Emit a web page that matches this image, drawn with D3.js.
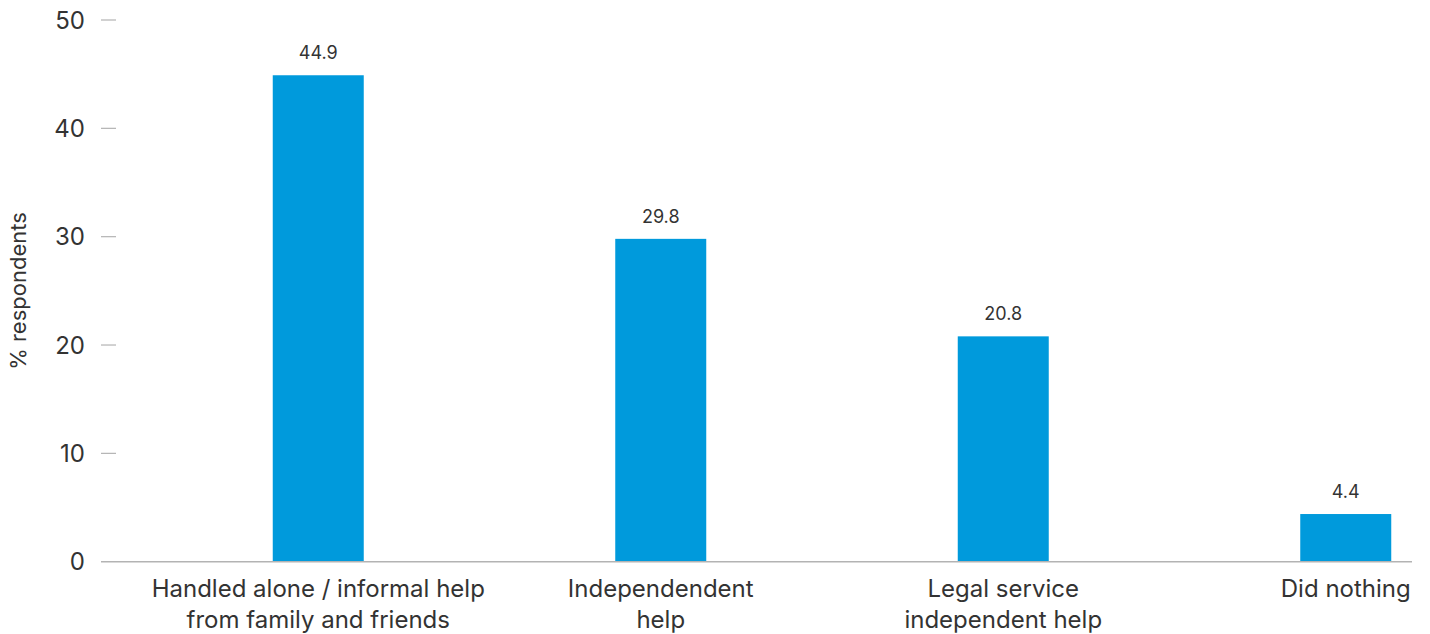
<!DOCTYPE html>
<html>
<head>
<meta charset="utf-8">
<script src="https://cdn.jsdelivr.net/npm/d3@7"></script>
<style>
  body { margin: 0; background: #fff; }
  text { font-family: Inter, "Noto Sans", sans-serif; fill: #333; }
</style>
</head>
<body>
<div id="chart"></div>
<script>
// data
const categories = [
  ["Handled alone / informal help", "from family and friends"],
  ["Independendent", "help"],
  ["Legal service", "independent help"],
  ["Did nothing"]
];
const values = [44.9, 29.8, 20.8, 4.4];
const yTicks = [0, 10, 20, 30, 40, 50];

const width = 1430, height = 634;
const axisLeft = 101, axisRight = 1412;
const y0 = 561.7, y50 = 20;

const svg = d3.select("#chart")
  .append("svg")
  .attr("width", width)
  .attr("height", height);

// x: band centres line up with the bars
const x = d3.scaleBand()
  .domain(d3.range(categories.length))
  .range([147, 1517])
  .padding(0);
const barW = 91;

const y = d3.scaleLinear()
  .domain([0, 50])
  .range([y0, y50]);

// y ticks
const yAxis = svg.append("g");
yAxis.selectAll("line")
  .data(yTicks.filter(d => d > 0))
  .enter()
  .append("line")
  .attr("x1", axisLeft)
  .attr("x2", axisLeft + 15)
  .attr("y1", d => y(d))
  .attr("y2", d => y(d))
  .attr("stroke", "#b3b3b3")
  .attr("stroke-width", 1.2);

yAxis.selectAll("text")
  .data(yTicks)
  .enter()
  .append("text")
  .attr("x", 85)
  .attr("y", d => y(d))
  .attr("dy", "0.36em")
  .attr("text-anchor", "end")
  .style("font-size", "24px")
  .text(d => d);

// y title
svg.append("text")
  .attr("transform", "translate(26, 291) rotate(-90)")
  .attr("text-anchor", "middle")
  .style("font-size", "22px")
  .text("% respondents");

// bars
svg.append("g")
  .selectAll("rect")
  .data(values)
  .enter()
  .append("rect")
  .attr("x", (d, i) => x(i) + x.bandwidth() / 2 - barW / 2)
  .attr("y", d => y(d))
  .attr("width", barW)
  .attr("height", d => y(0) - y(d))
  .attr("fill", "#009ADC");

// value labels
svg.append("g")
  .selectAll("text")
  .data(values)
  .enter()
  .append("text")
  .attr("x", (d, i) => x(i) + x.bandwidth() / 2)
  .attr("y", d => y(d) - 16)
  .attr("text-anchor", "middle")
  .style("font-size", "18px")
  .text(d => d.toFixed(1));

// baseline
svg.append("line")
  .attr("x1", axisLeft)
  .attr("x2", axisRight)
  .attr("y1", y(0))
  .attr("y2", y(0))
  .attr("stroke", "#b3b3b3")
  .attr("stroke-width", 1.5);

// category labels
const cat = svg.append("g")
  .selectAll("text")
  .data(categories)
  .enter()
  .append("text")
  .attr("text-anchor", "middle")
  .style("font-size", "24px");

cat.selectAll("tspan")
  .data((d, i) => d.map(line => ({ line, i })))
  .enter()
  .append("tspan")
  .attr("x", d => x(d.i) + x.bandwidth() / 2)
  .attr("y", (d, j) => 597 + j * 31)
  .text(d => d.line);
</script>
</body>
</html>
